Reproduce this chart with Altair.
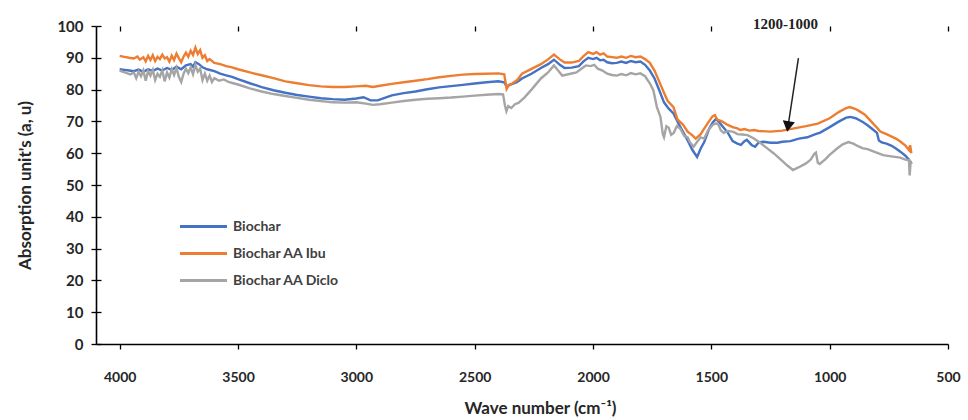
import altair as alt
import pandas as pd

# ---------------- data ----------------
series_names = ["Biochar", "Biochar AA Ibu", "Biochar AA Diclo"]
series_colors = ["#4472C4", "#ED7D31", "#A5A5A5"]

biochar_wn = [4000, 3980, 3960, 3940, 3920, 3900, 3880, 3860, 3840, 3820, 3800, 3780, 3760, 3740, 3720,
              3700, 3690, 3680, 3665, 3650, 3630, 3600, 3575, 3550, 3525, 3500, 3450, 3400, 3350, 3300,
              3250, 3200, 3150, 3100, 3050, 3000, 2970, 2940, 2910, 2880, 2850, 2800, 2750, 2700, 2650,
              2600, 2550, 2500, 2450, 2400, 2375, 2365, 2355, 2340, 2320, 2300, 2260, 2220, 2190, 2165,
              2140, 2120, 2090, 2060, 2040, 2020, 2000, 1985, 1970, 1955, 1940, 1920, 1900, 1880, 1860,
              1840, 1820, 1800, 1780, 1760, 1740, 1720, 1700, 1680, 1660, 1640, 1620, 1600, 1580, 1560,
              1545, 1530, 1510, 1495, 1480, 1465, 1445, 1430, 1410, 1390, 1375, 1360, 1350, 1330, 1315,
              1300, 1280, 1250, 1220, 1200, 1166, 1130, 1094, 1060, 1040, 1000, 960, 930, 913, 890,
              860, 840, 820, 800, 792, 780, 760, 740, 720, 700, 680, 665, 660, 655]
biochar_val = [86.4, 86.2, 86.0, 85.8, 86.3, 85.6, 86.4, 85.9, 86.6, 86.0, 86.8, 86.2, 87.2, 86.4, 87.6,
               88.0, 87.2, 88.6, 88.0, 87.0, 86.4, 85.8, 85.0, 84.5, 84.0, 83.3, 82.0, 80.8, 79.8, 79.0,
               78.3, 77.8, 77.3, 77.0, 76.8, 77.2, 77.6, 76.6, 76.6, 77.4, 78.2, 78.9, 79.4, 80.1, 80.7,
               81.1, 81.5, 81.9, 82.3, 82.6, 82.3, 81.0, 81.4, 81.8, 82.4, 83.5, 85.0, 86.8, 88.0, 89.4,
               87.8, 86.8, 86.9, 87.4, 88.9, 90.0, 89.6, 90.0, 89.2, 89.4, 88.6, 88.3, 88.4, 88.8, 88.4,
               89.0, 88.6, 88.8, 87.8, 86.0, 83.5, 79.8, 76.0, 74.0, 72.5, 69.5, 66.8, 64.0, 61.0, 58.8,
               61.5, 63.5, 67.5, 69.6, 70.8, 69.6, 67.8, 66.4, 63.8, 63.0, 62.6, 63.8, 64.2, 62.6, 62.0,
               63.4, 63.6, 63.3, 63.3, 63.6, 63.8, 64.6, 65.0, 66.0, 66.5, 68.2, 70.0, 71.2, 71.4, 71.0,
               69.8, 68.8, 67.6, 66.4, 64.0, 63.4, 63.0, 62.4, 61.5, 60.4, 59.2, 58.0, 57.2, 57.6]

ibu_wn = [4000, 3980, 3960, 3940, 3925, 3915, 3900, 3890, 3880, 3870, 3860, 3850, 3840, 3830, 3820,
          3810, 3800, 3790, 3780, 3770, 3760, 3750, 3740, 3730, 3720, 3710, 3700, 3690, 3680, 3670,
          3660, 3650, 3640, 3630, 3620, 3600, 3575, 3550, 3525, 3500, 3450, 3400, 3350, 3300, 3250,
          3200, 3150, 3100, 3050, 3000, 2960, 2930, 2900, 2850, 2800, 2750, 2700, 2650, 2600, 2550,
          2500, 2450, 2400, 2375, 2365, 2355, 2340, 2320, 2300, 2260, 2220, 2190, 2165, 2140, 2120,
          2090, 2060, 2040, 2020, 2000, 1985, 1970, 1955, 1940, 1920, 1900, 1880, 1860, 1840, 1820,
          1800, 1780, 1760, 1740, 1720, 1700, 1685, 1660, 1643, 1620, 1600, 1580, 1566, 1545, 1533,
          1510, 1495, 1485, 1475, 1455, 1431, 1410, 1390, 1377, 1360, 1340, 1320, 1300, 1250, 1200,
          1150, 1100, 1050, 1000, 960, 930, 915, 890, 870, 850, 820, 800, 786, 760, 740, 720, 700,
          680, 665, 660, 655]
ibu_val = [90.6, 90.3, 90.0, 89.8, 90.4, 89.4, 90.2, 88.9, 90.6, 89.3, 90.8, 89.0, 90.3, 89.6, 91.0,
           89.8, 90.2, 88.8, 90.7, 89.3, 91.3, 89.9, 88.6, 90.4, 91.6, 90.3, 92.2, 90.9, 93.2, 91.2,
           92.4, 90.0, 90.8, 89.0, 89.6, 88.4, 88.0, 87.4, 87.0, 86.4, 85.4, 84.5, 83.6, 82.6, 82.0,
           81.4, 81.0, 80.8, 80.8, 81.0, 81.2, 80.8, 81.2, 81.8, 82.3, 82.8, 83.3, 83.9, 84.3, 84.7,
           84.9, 85.0, 85.1, 84.8, 80.2, 81.5, 82.0, 83.0, 85.0, 86.5, 88.0, 89.5, 91.0, 89.5, 88.5,
           88.5, 89.0, 90.5, 91.8, 91.2, 91.8, 91.0, 91.4, 90.4, 90.2, 90.0, 90.4, 90.0, 90.6, 90.2,
           90.4, 89.6, 88.4, 86.0, 82.5, 79.0, 76.5, 74.5, 70.6, 69.0, 66.8, 65.6, 64.6, 66.0, 67.4,
           70.0, 71.6, 72.0, 70.6, 70.0, 68.9, 68.2, 67.8, 67.3, 67.6, 67.1, 67.3, 67.0, 66.8, 67.1,
           67.8, 68.5, 69.3, 71.0, 73.0, 74.2, 74.5, 73.9, 73.0, 72.0, 69.6, 68.0, 66.8, 66.0, 65.3,
           64.6, 63.6, 62.4, 61.0, 62.5, 60.0]

diclo_wn = [4000, 3985, 3970, 3955, 3940, 3930, 3920, 3910, 3900, 3890, 3880, 3870, 3860, 3850, 3840,
            3830, 3820, 3810, 3800, 3790, 3780, 3770, 3760, 3750, 3740, 3730, 3720, 3710, 3700, 3690,
            3680, 3670, 3660, 3650, 3640, 3630, 3620, 3610, 3600, 3580, 3560, 3540, 3520, 3500, 3450,
            3400, 3350, 3300, 3250, 3200, 3150, 3100, 3050, 3000, 2960, 2930, 2900, 2850, 2800, 2750,
            2700, 2650, 2600, 2550, 2500, 2450, 2400, 2380, 2372, 2366, 2358, 2345, 2330, 2315, 2290,
            2260, 2220, 2190, 2165, 2145, 2130, 2100, 2070, 2045, 2030, 2010, 1995, 1980, 1960, 1940,
            1920, 1900, 1880, 1860, 1840, 1820, 1800, 1780, 1760, 1745, 1730, 1715, 1705, 1700, 1690,
            1680, 1670, 1659, 1645, 1630, 1615, 1600, 1590, 1575, 1560, 1545, 1530, 1515, 1495, 1480,
            1470, 1460, 1448, 1430, 1406, 1390, 1370, 1347, 1320, 1292, 1265, 1237, 1210, 1180, 1155,
            1130, 1100, 1080, 1065, 1058, 1050, 1042, 1020, 1000, 970, 945, 921, 900, 880, 862,
            840, 810, 774, 740, 702, 680, 665, 662, 658, 652]
diclo_val = [86.0, 85.6, 85.2, 84.8, 85.4, 83.6, 85.6, 84.2, 86.0, 82.8, 85.8, 84.4, 86.2, 83.0, 85.0,
             84.0, 86.0, 82.6, 85.4, 83.8, 86.4, 84.6, 86.8, 84.0, 82.4, 85.0, 86.6, 85.2, 87.0, 84.8,
             87.8, 85.6, 86.6, 83.0, 85.0, 82.8, 84.4, 82.4, 83.6, 82.8, 83.2, 82.4, 82.0, 81.6, 80.4,
             79.4, 78.6, 78.0, 77.4, 76.8, 76.4, 76.0, 75.9, 76.0, 75.6, 75.2, 75.4, 75.9, 76.4, 76.8,
             77.1, 77.3, 77.5, 77.8, 78.1, 78.4, 78.6, 78.5, 75.0, 73.2, 74.8, 74.2, 75.4, 75.8, 77.5,
             80.0, 83.5, 85.4, 87.6, 85.8, 84.4, 84.9, 85.4, 86.8, 87.6, 87.4, 87.8, 86.6, 86.0, 85.0,
             84.6, 84.4, 84.9, 84.5, 85.2, 84.8, 85.1, 84.2, 82.0, 79.8, 74.5, 71.4, 66.0, 65.0, 68.5,
             68.0, 65.8, 66.4, 68.6, 67.6, 65.5, 65.0, 63.4, 62.0, 63.6, 65.0, 64.6, 67.0, 68.9, 69.4,
             69.0, 67.2, 66.4, 67.0, 66.7, 66.0, 65.9, 65.7, 64.6, 63.2, 61.6, 60.0, 58.2, 56.2, 54.7,
             55.6, 56.8, 58.0, 59.8, 60.2, 57.0, 56.6, 58.0, 59.5, 61.4, 62.8, 63.5, 63.0, 62.2, 61.6,
             61.3, 60.4, 59.4, 59.0, 58.6, 58.0, 57.8, 53.0, 57.2, 56.6]

x_ticks = [4000, 3500, 3000, 2500, 2000, 1500, 1000, 500]
y_ticks = [0, 10, 20, 30, 40, 50, 60, 70, 80, 90, 100]

annot_label = "1200-1000"
annot_text_pos = (1187, 100.6)
arrow_start = (1132, 89.9)
arrow_end = (1176, 68.4)

# ---------------- table ----------------
rows = []
for name, wns, vals in [(series_names[0], biochar_wn, biochar_val),
                        (series_names[1], ibu_wn, ibu_val),
                        (series_names[2], diclo_wn, diclo_val)]:
    for i, (w, v) in enumerate(zip(wns, vals)):
        rows.append({"series": name, "wn": w, "val": v, "idx": i})
df = pd.DataFrame(rows)

FONT = "Lato"
TXT = "#262626"

x_scale = alt.Scale(domain=[4100, 500], nice=False, zero=False)
y_scale = alt.Scale(domain=[0, 100], nice=False, zero=True)
X_TITLE = "Wave number (cm⁻¹)"
Y_TITLE = "Absorption unit's (a, u)"

x_axis = alt.Axis(values=x_ticks, format="d", title=X_TITLE, grid=True,
                  gridDash=[5, 3000], gridColor="black", gridWidth=1.3, gridOpacity=1,
                  domainColor="black", domainWidth=1.6, tickColor="black", tickWidth=1.3,
                  tickSize=5, labelPadding=21, labelFont=FONT, labelFontSize=14,
                  labelFontWeight="bold", labelColor=TXT, titleFont=FONT, titleFontSize=17,
                  titleFontWeight="bold", titleColor=TXT, titleX=444, titleY=64,
                  titleBaseline="middle", labelFlush=False, labelOverlap=False)
y_axis = alt.Axis(values=y_ticks, format="d", tickCount=11, title=Y_TITLE, grid=True,
                  gridDash=[5, 3000], gridColor="black", gridWidth=1.3, gridOpacity=1,
                  domainColor="black", domainWidth=1.6, tickColor="black", tickWidth=1.3,
                  tickSize=5, labelPadding=8, labelFont=FONT, labelFontSize=15,
                  labelFontWeight="bold", labelColor=TXT, titleFont=FONT, titleFontSize=17,
                  titleFontWeight="bold", titleColor=TXT, titleX=-71, titleY=159,
                  titleBaseline="middle", titleAngle=-90, labelOverlap=False)


def xenc(field="wn:Q"):
    return alt.X(field, scale=x_scale, axis=x_axis, title=X_TITLE)


def yenc(field="val:Q"):
    return alt.Y(field, scale=y_scale, axis=y_axis, title=Y_TITLE)


lines = alt.Chart(df).mark_line(strokeWidth=2.4, clip=True).encode(
    x=xenc(),
    y=yenc(),
    color=alt.Color("series:N",
                    scale=alt.Scale(domain=series_names, range=series_colors),
                    sort=series_names,
                    legend=alt.Legend(orient="none", legendX=94, legendY=187, title=None,
                                      symbolType="M-2,0H2", symbolSize=552,
                                      symbolStrokeWidth=3, labelOffset=16,
                                      labelFont=FONT, labelFontSize=14, labelFontWeight="bold",
                                      labelColor="#404040", rowPadding=6, padding=0)),
    detail="series:N",
    order="idx:Q",
)

arrow_df = pd.DataFrame({"wn": [arrow_start[0]], "val": [arrow_start[1]],
                         "wn2": [arrow_end[0]], "val2": [arrow_end[1]]})
arrow_line = alt.Chart(arrow_df).mark_rule(color="#222222", strokeWidth=1.5).encode(
    x=xenc(), y=yenc(), x2="wn2:Q", y2="val2:Q",
)
head_df = pd.DataFrame({"wn": [arrow_end[0]], "val": [arrow_end[1]]})
arrow_head = alt.Chart(head_df).mark_point(shape="triangle-down", size=150, filled=True,
                                           color="#111111", opacity=1, angle=9).encode(
    x=xenc(), y=yenc(),
)
text_df = pd.DataFrame({"wn": [annot_text_pos[0]], "val": [annot_text_pos[1]], "t": [annot_label]})
annot = alt.Chart(text_df).mark_text(font="Liberation Serif", fontSize=15, fontWeight="bold",
                                     color="#222222", baseline="middle", align="center").encode(
    x=xenc(), y=yenc(), text="t:N",
)

chart = alt.layer(lines, arrow_line, arrow_head, annot).properties(
    width=852, height=318,
    padding={"left": 96, "top": 26, "right": 20, "bottom": 76},
    autosize=alt.AutoSizeParams(type="none"),
    background="white",
).configure_view(stroke=None)

chart.save("out.html", embed_options={"renderer": "svg", "actions": False})
